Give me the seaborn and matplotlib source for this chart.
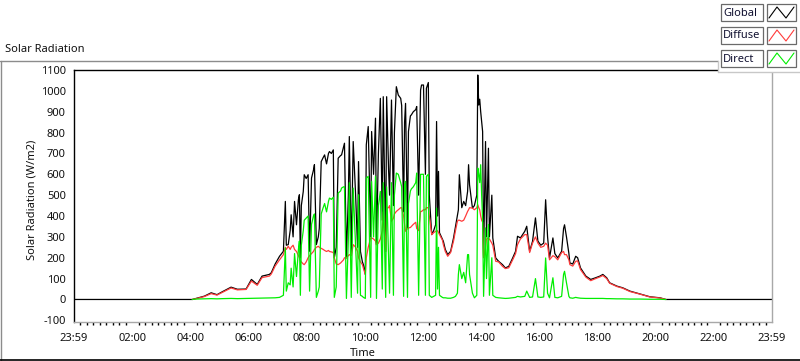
import matplotlib
matplotlib.use("Agg")
import numpy as np
import pandas as pd
import seaborn as sns
import matplotlib.pyplot as plt
from matplotlib.lines import Line2D
from matplotlib.patches import Rectangle
from matplotlib.ticker import FixedLocator

# ---------------- data (minutes after 23:59, W/m2) ----------------
times = [0, 244, 252, 269, 283, 295, 306, 324, 337, 355, 366, 378, 388, 403, 407, 415, 424, 432, 436, 438,
         442, 446, 448, 452, 455, 459, 463, 465, 467, 469, 473, 475, 479, 483, 486, 490, 494, 496, 500, 504,
         506, 510, 514, 517, 521, 525, 527, 531, 535, 537, 541, 545, 550, 552, 556, 558, 562, 566, 568, 572,
         576, 581, 585, 587, 591, 595, 597, 601, 603, 607, 612, 614, 618, 622, 624, 628, 632, 636, 638, 643,
         645, 649, 651, 655, 659, 661, 665, 669, 674, 676, 680, 682, 684, 688, 690, 694, 696, 700, 705, 707,
         711, 715, 717, 721, 725, 727, 731, 733, 738, 742, 746, 748, 750, 752, 754, 760, 762, 766, 771, 777,
         783, 787, 791, 793, 795, 800, 804, 808, 812, 814, 816, 822, 826, 831, 833, 835, 837, 839, 841, 843,
         845, 849, 851, 855, 857, 862, 864, 870, 876, 884, 890, 897, 905, 911, 915, 921, 930, 934, 940, 946,
         952, 957, 963, 969, 973, 977, 981, 988, 992, 998, 1006, 1010, 1012, 1016, 1021, 1023, 1029, 1035, 1039, 1045,
         1056, 1066, 1076, 1085, 1091, 1099, 1105, 1120, 1132, 1147, 1167, 1188, 1209, 1221, 1440]

global_vals = [0, 0, 5, 16, 32, 23, 37, 59, 49, 50, 96, 72, 112, 120, 128, 170, 207, 231, 470, 260,
               263, 330, 406, 300, 470, 358, 480, 502, 199, 450, 518, 598, 580, 598, 231, 582, 620, 646, 263, 300,
               340, 661, 680, 693, 650, 700, 709, 700, 717, 199, 250, 677, 690, 693, 730, 749, 199, 500, 781, 215,
               757, 500, 250, 661, 230, 180, 167, 120, 741, 829, 300, 805, 600, 869, 263, 700, 964, 380, 972, 230,
               972, 620, 500, 956, 450, 800, 1020, 980, 964, 930, 420, 850, 940, 340, 805, 880, 885, 900, 910, 925,
               500, 1004, 1028, 1028, 600, 1012, 1040, 500, 311, 330, 358, 853, 400, 614, 320, 290, 279, 240, 215, 231,
               295, 350, 406, 430, 598, 440, 470, 450, 518, 646, 550, 438, 450, 500, 1076, 932, 960, 900, 850, 805,
               210, 757, 300, 725, 300, 500, 295, 199, 183, 167, 151, 159, 199, 231, 303, 295, 327, 351, 231, 279,
               391, 280, 260, 270, 478, 300, 199, 295, 220, 199, 231, 340, 358, 300, 220, 175, 170, 207, 200, 151,
               112, 96, 104, 112, 120, 104, 80, 64, 56, 40, 27, 13, 8, 0, 0]

# diffuse and direct are logged only between 04:04 and 20:21 (times[1:-1])
diffuse_vals = [0, 4, 14, 28, 21, 34, 55, 46, 48, 88, 68, 105, 112, 122, 160, 190, 215, 250, 240,
                255, 240, 250, 260, 240, 230, 210, 200, 185, 180, 170, 167, 180, 200, 210, 220, 230, 240, 250, 255,
                250, 245, 240, 235, 230, 235, 230, 228, 225, 200, 170, 167, 175, 180, 190, 200, 200, 210, 215, 210,
                263, 250, 230, 200, 180, 167, 150, 120, 200, 250, 295, 295, 290, 280, 263, 270, 290, 330, 420, 230,
                438, 440, 450, 375, 390, 410, 422, 430, 440, 440, 400, 360, 327, 340, 343, 345, 350, 360, 370, 340,
                330, 422, 422, 430, 430, 440, 440, 400, 311, 320, 327, 327, 330, 320, 311, 285, 263, 230, 207, 225,
                280, 330, 375, 380, 380, 375, 380, 400, 422, 430, 440, 438, 430, 440, 454, 440, 430, 400, 380, 370,
                200, 250, 290, 295, 290, 270, 260, 183, 180, 159, 148, 152, 190, 220, 263, 290, 311, 311, 225, 270,
                300, 270, 250, 255, 270, 260, 190, 210, 205, 190, 225, 230, 215, 215, 190, 167, 160, 183, 185, 143,
                107, 90, 100, 108, 115, 100, 78, 62, 54, 38, 26, 12, 7, 0]

direct_vals = [0, 2, 3, 4, 3, 4, 5, 4, 5, 6, 6, 7, 8, 8, 8, 10, 20, 247, 40,
               80, 70, 150, 60, 220, 110, 240, 280, 20, 260, 330, 380, 390, 400, 40, 360, 400, 410, 10, 40,
               60, 410, 440, 460, 420, 470, 486, 480, 490, 10, 60, 510, 520, 534, 540, 540, 5, 290, 560, 10,
               534, 250, 30, 502, 20, 15, 10, 5, 582, 590, 10, 566, 300, 590, 5, 450, 518, 50, 560, 10,
               540, 200, 30, 560, 20, 500, 606, 600, 560, 540, 15, 550, 566, 10, 460, 520, 530, 540, 560, 606,
               20, 600, 600, 600, 20, 590, 600, 20, 10, 15, 20, 438, 50, 250, 20, 10, 8, 8, 6, 6,
               10, 15, 30, 120, 167, 100, 130, 80, 215, 215, 120, 30, 8, 20, 630, 600, 560, 646, 500, 380,
               15, 343, 100, 360, 20, 200, 20, 10, 8, 6, 5, 6, 8, 10, 15, 12, 15, 40, 10, 12,
               100, 12, 10, 12, 199, 30, 8, 104, 10, 8, 15, 120, 135, 80, 15, 8, 6, 10, 8, 6,
               5, 5, 5, 5, 5, 4, 4, 3, 3, 2, 2, 1, 1, 0]

series_names = ["Global", "Diffuse", "Direct"]
series_colors = ["#000000", "#FF3B3B", "#00EE00"]
x_tick_labels = ["23:59", "02:00", "04:00", "06:00", "08:00", "10:00", "12:00",
                 "14:00", "16:00", "18:00", "20:00", "22:00", "23:59"]
y_ticks = list(range(-100, 1101, 100))

# ---------------- figure ----------------
sns.set_style("white")
plt.rcParams["font.family"] = ["Noto Sans", "DejaVu Sans"]
W, H = 800, 361
fig = plt.figure(figsize=(W / 100, H / 100), dpi=100)
fig.patch.set_facecolor("white")


def fx(x):
    return x / W


def fy(y):
    return 1 - y / H


ax = fig.add_axes([fx(74), fy(322), fx(772) - fx(74), fy(70) - fy(322)])

sub_times = times[1:-1]
df = pd.DataFrame({
    "t": times + sub_times + sub_times,
    "v": global_vals + diffuse_vals + direct_vals,
    "s": [series_names[0]] * len(times) + [series_names[1]] * len(sub_times)
         + [series_names[2]] * len(sub_times),
})
sns.lineplot(data=df, x="t", y="v", hue="s", hue_order=series_names,
             palette=dict(zip(series_names, series_colors)),
             estimator=None, sort=False, linewidth=0.9, legend=False, ax=ax)

ax.set_xlim(0, 1440)
ax.set_ylim(-108, 1100)
ax.set_facecolor("white")
ax.set_xlabel("")
ax.set_ylabel("")
ax.set_yticks(y_ticks)
ax.set_yticklabels([str(v) for v in y_ticks])
ax.set_xticks(np.arange(0, 1441, 120))
ax.set_xticklabels(x_tick_labels)
ax.xaxis.set_minor_locator(FixedLocator(np.arange(0, 1441, 120 / 9)))
ax.tick_params(axis="both", which="major", direction="out", length=4, width=1,
               color="black", labelsize=8, labelcolor="#111111", pad=2)
ax.tick_params(axis="x", which="major", pad=4)
ax.tick_params(axis="x", which="minor", direction="out", length=2.5, width=1, color="black", bottom=True)
ax.grid(False)
for side in ["top", "left"]:
    ax.spines[side].set_color("black")
    ax.spines[side].set_linewidth(1)
for side in ["right", "bottom"]:
    ax.spines[side].set_color("#a8a8a8")
    ax.spines[side].set_linewidth(1)

# texts
fig.text(fx(5), fy(50), "Solar Radiation", fontsize=8, ha="left", va="center", color="#111111")
fig.text(fx(32), fy(200), "Solar Radiation (W/m2)", fontsize=8, rotation=90,
         ha="center", va="center", color="#111111")
fig.text(fx(363), fy(354), "Time", fontsize=8, ha="center", va="center", color="#111111")

# outer frame
fig.add_artist(Line2D([fx(0), fx(718)], [fy(61), fy(61)], color="#8c8c8c", lw=1))
fig.add_artist(Line2D([fx(0.5), fx(0.5)], [fy(61), fy(360)], color="#8c8c8c", lw=1))
fig.add_artist(Line2D([fx(0), fx(800)], [fy(359.5), fy(359.5)], color="black", lw=1.2))

# legend
fig.add_artist(Rectangle((fx(718), fy(72)), fx(82), fy(0) - fy(72), transform=fig.transFigure,
                         facecolor="white", edgecolor="none"))
fig.add_artist(Line2D([fx(718), fx(800)], [fy(72), fy(72)], color="#c8c8c8", lw=1))
fig.add_artist(Line2D([fx(718), fx(718)], [fy(61), fy(72)], color="#c8c8c8", lw=1))
row_tops = [4, 27, 50]
for name, col, top in zip(series_names, series_colors, row_tops):
    bot = top + 17
    fig.add_artist(Rectangle((fx(721), fy(bot)), fx(763) - fx(721), fy(top) - fy(bot),
                             transform=fig.transFigure, facecolor="white",
                             edgecolor="#6a6a6a", lw=0.9))
    fig.add_artist(Rectangle((fx(767), fy(bot)), fx(796) - fx(767), fy(top) - fy(bot),
                             transform=fig.transFigure, facecolor="white",
                             edgecolor="#6a6a6a", lw=0.9))
    fig.text(fx(723), fy((top + bot) / 2 + 0.5), name, fontsize=8, ha="left", va="center",
             color="#101030")
    zx = [769, 777, 786, 794]
    zy = [bot - 3, top + 3, bot - 3, top + 3]
    fig.add_artist(Line2D([fx(v) for v in zx], [fy(v) for v in zy], color=col, lw=0.8))

fig.savefig("out.png", dpi=100, facecolor="white")
